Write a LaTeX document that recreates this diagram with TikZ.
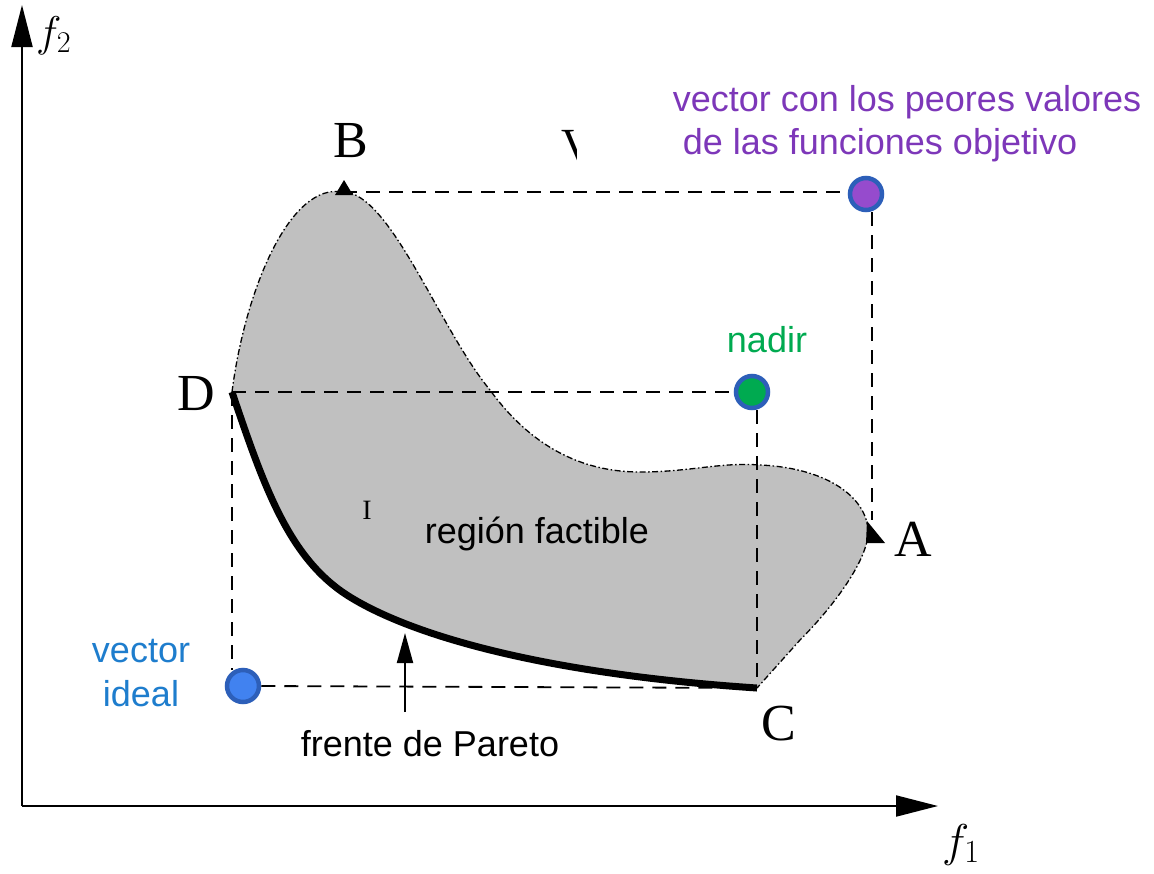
\documentclass[tikz,border=0pt]{standalone}
\usepackage{fix-cm}
\usepackage{fontspec}
\setmainfont{Liberation Serif}
\newfontfamily\arialf{Liberation Sans}
\usetikzlibrary{arrows.meta}
\definecolor{purptext}{RGB}{125,55,185}
\definecolor{purpfill}{RGB}{150,75,205}
\definecolor{greentext}{RGB}{0,170,80}
\definecolor{greenfill}{RGB}{0,170,80}
\definecolor{bluetext}{RGB}{30,125,205}
\definecolor{bluefill}{RGB}{65,130,240}
\definecolor{ringblue}{RGB}{45,95,185}
\definecolor{regiongray}{RGB}{192,192,192}
\tikzset{
  axisline/.style={line width=2pt,-{Triangle[length=42pt,width=21pt]}},
  guide/.style={line width=1.8pt,dash pattern=on 14pt off 9pt},
  border/.style={line width=1.3pt,dash pattern=on 6pt off 2.5pt on 1.5pt off 2.5pt},
  pareto/.style={line width=7pt},
  dotnode/.style={circle,draw=ringblue,line width=4.5pt,minimum size=32pt,inner sep=0pt},
  serifbig/.style={font=\fontsize{52}{60}\selectfont,inner sep=0pt,anchor=base},
  sanslabel/.style={font=\arialf\fontsize{36}{44}\selectfont,inner sep=0pt,anchor=base},
  marker/.style={fill=black}
}
\begin{document}
\begin{tikzpicture}[x=1pt,y=-1pt]
\useasboundingbox (0,0) rectangle (1154,873);
% key points
\coordinate (D) at (232,392);
\coordinate (B) at (343,192);
\coordinate (A) at (868,535);
\coordinate (C) at (757,688);
\coordinate (O) at (22,806);
\coordinate (Ytip) at (22,5);
\coordinate (Xtip) at (938,806);
% region fill
\fill[regiongray] (D) .. controls (245,290) and (290,182) .. (B)
  .. controls (390,192) and (440,330) .. (490,390)
  .. controls (530,445) and (580,472) .. (640,472)
  .. controls (690,472) and (720,462) .. (760,465)
  .. controls (830,468) and (870,500) .. (A)
  .. controls (865,565) and (830,610) .. (800,640) -- (C)
  .. controls (560,675) and (420,640) .. (350,597)
  .. controls (290,560) and (265,490) .. (D) -- cycle;
% dots
\node[dotnode,fill=purpfill] (worst) at (866,194) {};
\node[dotnode,fill=greenfill] (nadir) at (752,392) {};
\node[dotnode,fill=bluefill] (ideal) at (243,686) {};
% guide lines
\coordinate (wA) at (872,520);
\coordinate (nC) at (757,680);
\coordinate (Dd) at (232,670);
\draw[guide] (B) -- (B -| worst.west);
\draw[guide] (worst.south -| wA) -- (wA);
\draw[guide] (D) -- (nadir.west);
\draw[guide] (nadir.south -| nC) -- (nC);
\draw[guide] (D) -- (Dd);
\draw[guide] (ideal.east) -- (C);
% border
\draw[border] (D) .. controls (245,290) and (290,182) .. (B)
  .. controls (390,192) and (440,330) .. (490,390)
  .. controls (530,445) and (580,472) .. (640,472)
  .. controls (690,472) and (720,462) .. (760,465)
  .. controls (830,468) and (870,500) .. (A)
  .. controls (865,565) and (830,610) .. (800,640) -- (C);
% pareto front
\draw[pareto] (C) .. controls (560,675) and (420,640) .. (350,597)
  .. controls (290,560) and (265,490) .. (D);
% markers
\fill[marker] (344,180) -- (335,195) -- (353,195) -- cycle;
\fill[marker] (867,521) -- (866,543) -- (885,543) -- cycle;
% axes
\draw[axisline] (O) -- (Ytip);
\draw[axisline] (O) -- (Xtip);
% pareto arrow
\coordinate (pa) at (405,712);
\coordinate (pb) at (405,633);
\draw[line width=2pt,-{Triangle[length=30pt,width=16pt]}] (pa) -- (pb);
% labels
\node[serifbig] (lB) at (351,157) {B};
\node[serifbig] (lD) at (196,410) {D};
\node[serifbig] (lA) at (913,556) {A};
\node[serifbig] (lC) at (779,740) {C};
\node[font=\fontsize{43}{50}\selectfont,inner sep=0pt,anchor=base west] (lf2) at (36,46) {$f_2$};
\node[font=\fontsize{46}{52}\selectfont,inner sep=0pt,anchor=base west] (lf1) at (942,856) {$f_1$};
\node[font=\fontsize{28}{32}\selectfont,inner sep=0pt,anchor=base] (lI) at (367,519) {I};
\begin{scope}
\clip (540,110) rectangle (576,170);
\node[font=\fontsize{46}{52}\selectfont,inner sep=0pt,anchor=base west] (lV) at (561,160) {V};
\end{scope}
\node[sanslabel,text=purptext] (w1) at (907,111) {vector con los peores valores};
\node[sanslabel,text=purptext] (w2) at (880,154) {de las funciones objetivo};
\node[sanslabel,text=greentext] (nl) at (767,352) {nadir};
\node[sanslabel,text=bluetext] (i1) at (141,662) {vector};
\node[sanslabel,text=bluetext] (i2) at (141,706) {ideal};
\node[sanslabel] (rf) at (537,543) {región factible};
\node[sanslabel] (fp) at (430,756) {frente de Pareto};
\end{tikzpicture}
\end{document}
